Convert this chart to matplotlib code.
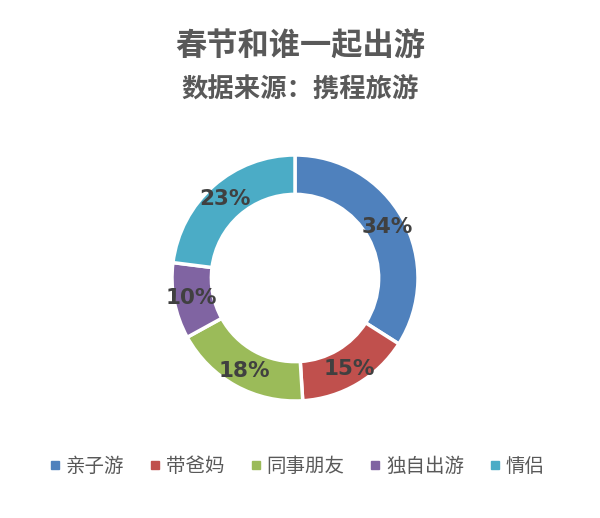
import matplotlib
matplotlib.use("Agg")
import matplotlib.pyplot as plt
from matplotlib.lines import Line2D

plt.rcParams['font.family'] = ['Noto Sans CJK SC', 'DejaVu Sans']

categories = ['亲子游', '带爸妈', '同事朋友', '独自出游', '情侣']
values = [34, 15, 18, 10, 23]
colors = ['#4F81BD', '#C0504D', '#9BBB59', '#8064A2', '#4BACC6']
title_lines = ['春节和谁一起出游', '数据来源：携程旅游']

fig = plt.figure(figsize=(6.0, 5.18), dpi=100)
ax = fig.add_axes([0.0, 0.0, 1.0, 1.0])
ax.set_xlim(0, 600)
ax.set_ylim(518, 0)
ax.axis('off')

pax = fig.add_axes([(295 - 123) / 600, 1 - (278 + 123) / 518, 246 / 600, 246 / 518])
wedges, texts, autotexts = pax.pie(
    values, colors=colors, startangle=90, counterclock=False,
    radius=1.0, wedgeprops=dict(width=0.32, edgecolor='white', linewidth=2.5),
    autopct=lambda p: f'{p:.0f}%', pctdistance=0.86,
    textprops=dict(fontsize=15.5, fontweight='bold', color='#404040', family=['DejaVu Sans']))
pax.set_xlim(-1, 1)
pax.set_ylim(-1, 1)
pax.set_aspect('equal')

fig.text(0.5, 1 - 47 / 518, title_lines[0], ha='center', va='center',
         fontsize=22.5, fontweight='bold', color='#595959')
fig.text(0.5, 1 - 89 / 518, title_lines[1], ha='center', va='center',
         fontsize=19, fontweight='bold', color='#595959')

handles = [Line2D([0], [0], marker='s', color='none', markerfacecolor=c,
                  markeredgecolor=c, markersize=6) for c in colors]
leg = fig.legend(handles, categories, loc='center', bbox_to_anchor=(0.495, 1 - 466 / 518),
                 ncol=5, frameon=False, fontsize=14, handlelength=0.6,
                 handletextpad=0.25, columnspacing=1.3, labelcolor='#595959')

fig.savefig('out.png', dpi=100, facecolor='white')
